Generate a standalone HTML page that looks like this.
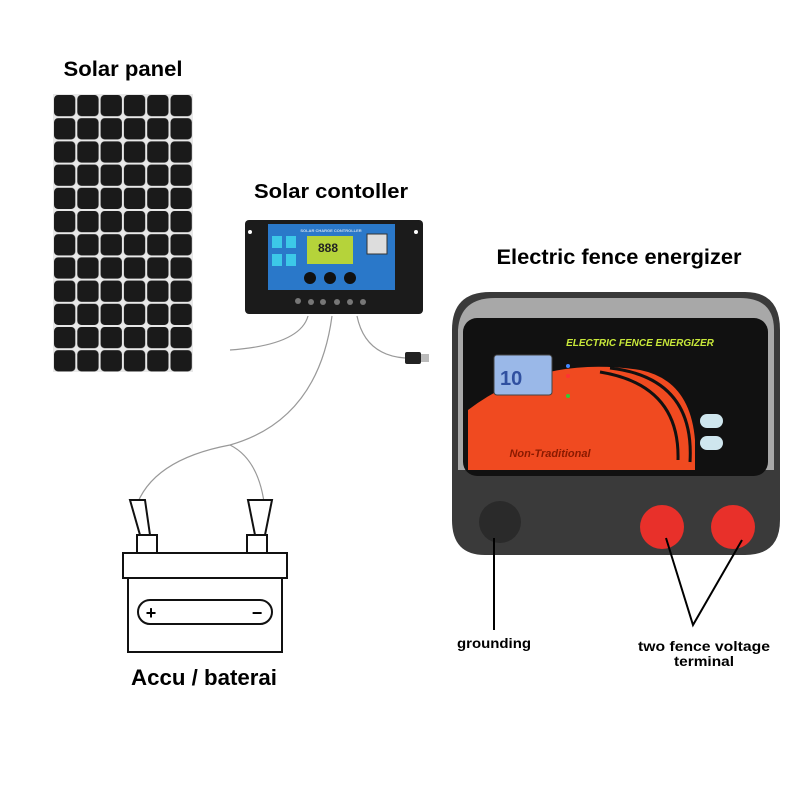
<!DOCTYPE html>
<html><head><style>
body{margin:0;background:#fff}
svg{display:block}
text{font-family:"Liberation Sans",sans-serif;font-weight:bold}
</style></head><body>
<svg width="800" height="800" viewBox="0 0 800 800">
<defs>
<pattern id="cells" x="53" y="94" width="23.3" height="23.2" patternUnits="userSpaceOnUse">
<rect width="23.3" height="23.2" fill="#e8e8e8"/>
<rect x="1" y="1" width="21.3" height="21.2" rx="4" fill="#1a1a1a"/>
</pattern>
</defs>
<text x="123" y="76" font-size="21" text-anchor="middle" textLength="119" lengthAdjust="spacingAndGlyphs">Solar panel</text>
<rect x="53" y="94" width="140" height="278" fill="url(#cells)"/>

<text x="331" y="198" font-size="20" text-anchor="middle" textLength="154" lengthAdjust="spacingAndGlyphs">Solar contoller</text>
<rect x="245" y="220" width="178" height="94" rx="4" fill="#1b1b1b"/>
<rect x="268" y="224" width="127" height="66" fill="#2a78c9"/>
<text x="331" y="232" font-size="4" fill="#cde" text-anchor="middle" font-weight="normal">SOLAR CHARGE CONTROLLER</text>
<rect x="307" y="236" width="46" height="28" fill="#b5d33a"/>
<text x="318" y="252" font-size="12" fill="#222">888</text>
<rect x="272" y="236" width="10" height="12" fill="#3cc8e8"/><rect x="286" y="236" width="10" height="12" fill="#3cc8e8"/>
<rect x="272" y="254" width="10" height="12" fill="#3cc8e8"/><rect x="286" y="254" width="10" height="12" fill="#3cc8e8"/>
<rect x="367" y="234" width="20" height="20" fill="#ddd" stroke="#333"/>
<circle cx="310" cy="278" r="6" fill="#111"/><circle cx="330" cy="278" r="6" fill="#111"/><circle cx="350" cy="278" r="6" fill="#111"/>
<g fill="#777"><circle cx="298" cy="301" r="3"/><circle cx="311" cy="302" r="3"/><circle cx="323" cy="302" r="3"/><circle cx="337" cy="302" r="3"/><circle cx="350" cy="302" r="3"/><circle cx="363" cy="302" r="3"/></g>
<circle cx="250" cy="232" r="2" fill="#fff"/><circle cx="416" cy="232" r="2" fill="#fff"/>
<g fill="none" stroke="#999" stroke-width="1.2">
<path d="M308 316 Q300 345 230 350"/>
<path d="M332 316 Q318 420 230 445 Q150 460 135 510"/>
<path d="M230 445 Q260 460 265 510"/>
<path d="M357 316 Q365 355 405 358"/>
</g>
<rect x="405" y="352" width="16" height="12" rx="2" fill="#222"/><rect x="421" y="354" width="8" height="8" fill="#bbb"/>

<text x="619" y="264" font-size="21" text-anchor="middle" textLength="245" lengthAdjust="spacingAndGlyphs">Electric fence energizer</text>
<path d="M452 330 Q452 292 490 292 L745 292 Q780 292 780 330 L780 520 Q780 555 745 555 L485 555 Q452 555 452 520Z" fill="#3a3a3a"/>
<path d="M458 330 Q460 298 495 298 L740 298 Q774 298 774 330 L774 470 L458 470Z" fill="#a8a8a8"/>
<rect x="463" y="318" width="305" height="158" rx="14" fill="#111"/>
<path d="M468 410 Q540 355 640 370 Q690 380 695 440 L695 470 L468 470Z" fill="#f04a20"/>
<path d="M600 372 Q680 385 678 460" stroke="#111" stroke-width="3" fill="none"/>
<path d="M610 368 Q695 378 690 462" stroke="#111" stroke-width="3" fill="none"/>
<text x="640" y="346" font-size="10" fill="#c8e83a" text-anchor="middle" font-style="italic">ELECTRIC FENCE ENERGIZER</text>
<rect x="494" y="355" width="58" height="40" rx="3" fill="#9ab8e8" stroke="#444"/>
<text x="500" y="385" font-size="20" fill="#3050a0" font-weight="normal">10</text>
<circle cx="568" cy="366" r="2" fill="#48f"/><circle cx="568" cy="376" r="2" fill="#f33"/><circle cx="568" cy="396" r="2" fill="#3c3"/>
<rect x="700" y="414" width="23" height="14" rx="7" fill="#cfe6ee"/><rect x="700" y="436" width="23" height="14" rx="7" fill="#cfe6ee"/>
<text x="550" y="457" font-size="11" fill="#8a1a00" text-anchor="middle" font-style="italic">Non-Traditional</text>
<circle cx="500" cy="522" r="21" fill="#2a2a2a"/>
<circle cx="662" cy="527" r="22" fill="#e8302a"/><circle cx="733" cy="527" r="22" fill="#e8302a"/>
<g stroke="#000" stroke-width="2" fill="none">
<path d="M494 538 L494 630"/>
<path d="M666 538 L693 625 L742 540"/>
</g>
<text x="494" y="648" font-size="14" text-anchor="middle" textLength="74" lengthAdjust="spacingAndGlyphs">grounding</text>
<text x="704" y="651" font-size="14" text-anchor="middle" textLength="132" lengthAdjust="spacingAndGlyphs">two fence voltage</text>
<text x="704" y="666" font-size="14" text-anchor="middle" textLength="60" lengthAdjust="spacingAndGlyphs">terminal</text>

<g fill="#fff" stroke="#111" stroke-width="2">
<path d="M130 500 L140 535 L150 535 L145 500Z"/>
<path d="M248 500 L255 535 L265 535 L272 500Z"/>
<rect x="137" y="535" width="20" height="18"/>
<rect x="247" y="535" width="20" height="18"/>
<rect x="123" y="553" width="164" height="25"/>
<rect x="128" y="578" width="154" height="74"/>
<rect x="138" y="600" width="134" height="24" rx="12"/>
</g>
<text x="151" y="619" font-size="18" text-anchor="middle">+</text>
<text x="257" y="619" font-size="18" text-anchor="middle">−</text>
<text x="204" y="685" font-size="22" text-anchor="middle" textLength="146" lengthAdjust="spacingAndGlyphs">Accu / baterai</text>
</svg>
</body></html>
